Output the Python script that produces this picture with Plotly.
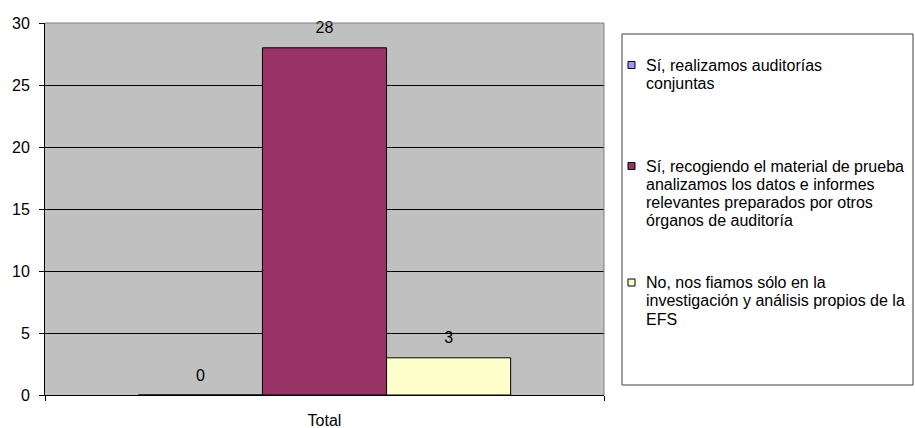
import plotly.graph_objects as go

# ---- data ----
categories = ["Total"]
series_names = [
    "Sí, realizamos auditorías<br>conjuntas",
    "Sí, recogiendo el material de prueba<br>analizamos los datos e informes<br>relevantes preparados por otros<br>órganos de auditoría",
    "No, nos fiamos sólo en la<br>investigación y análisis propios de la<br>EFS",
]
series_values = [[0], [28], [3]]
series_colors = ["#9999FF", "#993366", "#FFFFCC"]
y_tickvals = [0, 5, 10, 15, 20, 25, 30]

# ---- layout geometry (pixels) ----
W, H = 915, 428
L, R, T, B = 45, 604, 23, 395
PW, PH = R - L, B - T


def px_x(p):
    return (p - L) / PW


def px_y(p):
    return (B - p) / PH


FONT = "Liberation Sans, Arial, sans-serif"

fig = go.Figure()
for name, vals, col in zip(series_names, series_values, series_colors):
    fig.add_trace(go.Bar(
        x=categories, y=vals, name=name.replace("<br>", " "),
        marker=dict(color=col, line=dict(color="black", width=1)),
        showlegend=False,
    ))
# value labels, grouped like the bars
for name, vals in zip(series_names, series_values):
    fig.add_trace(go.Scatter(
        x=categories, y=vals, mode="markers+text",
        text=[str(v) for v in vals], textposition="top center",
        textfont=dict(family=FONT, size=16, color="black"),
        marker=dict(size=15, opacity=0),
        showlegend=False, hoverinfo="skip", cliponaxis=False,
    ))

shapes = [
    # plot-area border top & right (gray)
    dict(type="line", xref="paper", yref="paper", x0=0, x1=1, y0=1, y1=1,
         line=dict(color="#808080", width=1)),
    dict(type="line", xref="paper", yref="paper", x0=1, x1=1, y0=0, y1=1,
         line=dict(color="#808080", width=1)),
    # legend box
    dict(type="rect", xref="paper", yref="paper",
         x0=px_x(622), x1=px_x(913), y0=px_y(385), y1=px_y(34),
         line=dict(color="#404040", width=1), fillcolor="white"),
]
annotations = []
first_line_centers = [65, 166, 282.5]
LINE_STEP = 18.3
for name, col, cy in zip(series_names, series_colors, first_line_centers):
    shapes.append(dict(type="rect", xref="paper", yref="paper",
                       x0=px_x(628), x1=px_x(635), y0=px_y(cy + 3.5), y1=px_y(cy - 3.5),
                       line=dict(color="black", width=1), fillcolor=col))
    for i, line in enumerate(name.split("<br>")):
        annotations.append(dict(xref="paper", yref="paper", x=px_x(644), y=px_y(cy + i * LINE_STEP),
                                xanchor="left", yanchor="middle", align="left", showarrow=False,
                                text=line, font=dict(family=FONT, size=16, color="black")))

fig.update_layout(
    width=W, height=H,
    margin=dict(l=L, r=W - R, t=T, b=H - B, pad=0, autoexpand=False),
    paper_bgcolor="white", plot_bgcolor="#C0C0C0",
    barmode="group", bargap=0.334, bargroupgap=0,
    scattermode="group", scattergap=0.334,
    font=dict(family=FONT, size=16, color="black"),
    showlegend=False,
    shapes=shapes, annotations=annotations,
)
fig.update_xaxes(
    type="category", showgrid=False, showline=True, linecolor="black", linewidth=1,
    ticks="outside", tickson="boundaries", ticklen=5, tickcolor="black",
    tickfont=dict(family=FONT, size=16, color="black"), ticklabelstandoff=11,
    automargin=False,
)
fig.update_yaxes(
    range=[0, 30], tickvals=y_tickvals, showgrid=True, gridcolor="black", gridwidth=1,
    showline=True, linecolor="black", linewidth=1, ticks="outside", ticklen=5,
    tickcolor="black", tickfont=dict(family=FONT, size=16, color="black"),
    zeroline=False, ticklabelstandoff=6, automargin=False,
)

fig.write_html(
    "out.html",
    config={"displayModeBar": False},
    post_script="document.body.style.margin='0';document.body.style.overflow='hidden';",
)
